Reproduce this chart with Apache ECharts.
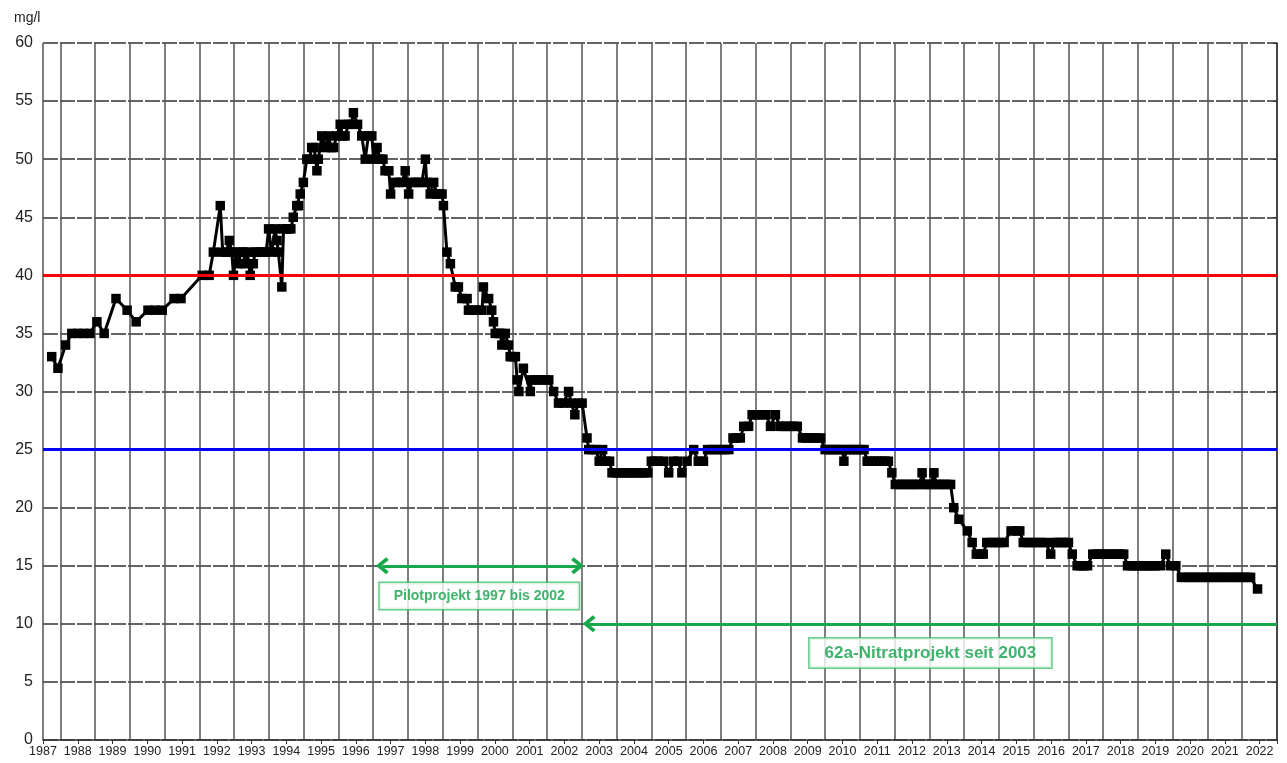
<!DOCTYPE html>
<html><head><meta charset="utf-8">
<script src="https://cdn.jsdelivr.net/npm/echarts@6/dist/echarts.min.js"></script>
<style>html,body{margin:0;padding:0;background:#fff}#c{width:1287px;height:763px}</style>
</head><body><div id="c"></div>
<script>
// [year (decimal), nitrate mg/l]
const nitrate = [
[1987.25,33],[1987.43,32],[1987.65,34],[1987.83,35],[1988.0,35],[1988.17,35],[1988.35,35],[1988.55,36],[1988.76,35],
[1989.1,38],[1989.42,37],[1989.68,36],[1990.02,37],[1990.22,37],[1990.43,37],[1990.77,38],[1990.97,38],[1991.58,40],[1991.78,40],
[1991.9,42],[1992.1,46],[1992.17,42],[1992.27,42],[1992.36,43],[1992.43,42],[1992.48,40],[1992.56,42],[1992.62,41],[1992.7,42],
[1992.77,42],[1992.81,41],[1992.88,42],[1992.96,40],[1993.05,41],[1993.1,42],[1993.15,42],[1993.25,42],[1993.34,42],[1993.42,42],
[1993.49,44],[1993.58,42],[1993.68,44],[1993.73,43],[1993.77,42],[1993.87,39],[1993.92,44],[1994.0,44],[1994.06,44],[1994.13,44],
[1994.2,45],[1994.3,46],[1994.35,46],[1994.4,47],[1994.49,48],[1994.59,50],[1994.66,50],[1994.73,51],[1994.8,51],[1994.88,49],
[1994.92,50],[1995.02,52],[1995.12,51],[1995.21,52],[1995.29,51],[1995.36,51],[1995.45,52],[1995.55,53],[1995.62,52],[1995.69,52],
[1995.79,53],[1995.86,53],[1995.93,54],[1996.05,53],[1996.17,52],[1996.27,50],[1996.36,52],[1996.46,52],[1996.51,50],[1996.61,51],
[1996.7,50],[1996.78,50],[1996.84,49],[1996.95,49],[1997.0,47],[1997.13,48],[1997.23,48],[1997.33,48],[1997.42,49],[1997.52,47],
[1997.61,48],[1997.7,48],[1997.8,48],[1997.9,48],[1998.0,50],[1998.04,48],[1998.14,47],[1998.24,48],[1998.33,47],[1998.41,47],
[1998.48,47],[1998.52,46],[1998.62,42],[1998.72,41],[1998.86,39],[1998.95,39],[1999.05,38],[1999.2,38],[1999.24,37],[1999.34,37],
[1999.44,37],[1999.54,37],[1999.63,37],[1999.67,39],[1999.82,38],[1999.91,37],[1999.96,36],[2000.01,35],[2000.1,35],[2000.16,35],
[2000.2,34],[2000.3,35],[2000.39,34],[2000.44,33],[2000.52,33],[2000.59,33],[2000.64,31],[2000.69,30],[2000.82,32],[2001.02,30],
[2001.05,31],[2001.16,31],[2001.26,31],[2001.36,31],[2001.45,31],[2001.55,31],[2001.69,30],[2001.83,29],[2001.97,29],[2002.12,30],
[2002.2,29],[2002.3,28],[2002.4,29],[2002.51,29],[2002.65,26],[2002.7,25],[2002.78,25],[2002.9,25],[2003.0,24],[2003.1,25],
[2003.2,24],[2003.3,24],[2003.37,23],[2003.5,23],[2003.6,23],[2003.7,23],[2003.8,23],[2003.9,23],[2004.0,23],[2004.1,23],
[2004.2,23],[2004.3,23],[2004.4,23],[2004.5,24],[2004.6,24],[2004.7,24],[2004.86,24],[2005.0,23],[2005.14,24],[2005.26,24],
[2005.38,23],[2005.53,24],[2005.72,25],[2005.85,24],[2006.0,24],[2006.12,25],[2006.25,25],[2006.37,25],[2006.49,25],[2006.61,25],
[2006.73,25],[2006.85,26],[2006.95,26],[2007.06,26],[2007.16,27],[2007.3,27],[2007.4,28],[2007.5,28],[2007.6,28],[2007.7,28],
[2007.8,28],[2007.93,27],[2008.07,28],[2008.2,27],[2008.3,27],[2008.4,27],[2008.5,27],[2008.6,27],[2008.7,27],[2008.85,26],
[2008.95,26],[2009.05,26],[2009.15,26],[2009.25,26],[2009.37,26],[2009.5,25],[2009.6,25],[2009.7,25],[2009.8,25],[2009.9,25],
[2010.0,25],[2010.04,24],[2010.12,25],[2010.22,25],[2010.32,25],[2010.42,25],[2010.52,25],[2010.62,25],[2010.71,24],[2010.82,24],
[2010.92,24],[2011.02,24],[2011.12,24],[2011.22,24],[2011.32,24],[2011.42,23],[2011.52,22],[2011.62,22],[2011.72,22],[2011.82,22],
[2011.92,22],[2012.02,22],[2012.12,22],[2012.22,22],[2012.29,23],[2012.38,22],[2012.47,22],[2012.55,22],[2012.63,23],[2012.7,22],
[2012.8,22],[2012.9,22],[2013.0,22],[2013.11,22],[2013.2,20],[2013.35,19],[2013.59,18],[2013.73,17],[2013.85,16],[2013.95,16],
[2014.05,16],[2014.15,17],[2014.28,17],[2014.4,17],[2014.52,17],[2014.65,17],[2014.85,18],[2015.0,18],[2015.1,18],[2015.2,17],
[2015.32,17],[2015.45,17],[2015.58,17],[2015.7,17],[2015.84,17],[2015.99,16],[2016.1,17],[2016.2,17],[2016.3,17],[2016.4,17],
[2016.5,17],[2016.61,16],[2016.75,15],[2016.85,15],[2016.95,15],[2017.05,15],[2017.2,16],[2017.3,16],[2017.4,16],[2017.5,16],
[2017.6,16],[2017.7,16],[2017.8,16],[2017.9,16],[2018.0,16],[2018.09,16],[2018.2,15],[2018.3,15],[2018.4,15],[2018.5,15],
[2018.6,15],[2018.7,15],[2018.8,15],[2018.9,15],[2019.0,15],[2019.15,15],[2019.3,16],[2019.44,15],[2019.59,15],[2019.75,14],
[2019.85,14],[2019.95,14],[2020.05,14],[2020.15,14],[2020.25,14],[2020.35,14],[2020.45,14],[2020.55,14],[2020.65,14],[2020.75,14],
[2020.85,14],[2020.95,14],[2021.05,14],[2021.15,14],[2021.25,14],[2021.35,14],[2021.45,14],[2021.55,14],[2021.65,14],[2021.74,14],
[2021.94,13]
];
const limitLines = [40, 25];               // red, blue
const limitColors = ['#ff0000', '#0000ff'];
const pilotArrow = [1996.76, 2002.38, 15];   // start, end, level
const nitratArrow = [2002.71, 2022.5, 10];
const noteTexts = ['Pilotprojekt 1997 bis 2002', '62a-Nitratprojekt seit 2003'];
const notePos = [[1999.55, 12.4], [2012.53, 7.5]];
const xRange = [1987, 2022.5];
const yRange = [0, 60];

const FF = '"Liberation Sans", Arial, sans-serif';
const GREEN = '#17a84b';
const chev = 'path://M0,10 L8,0 L16,10 L13.5,12.5 L8,5.5 L2.5,12.5 Z';

const chart = echarts.init(document.getElementById('c'), null, {renderer: 'canvas'});
chart.setOption({
  animation: false,
  backgroundColor: '#fff',
  title: {text: 'mg/l', left: 9, top: 6, textStyle: {fontSize: 14, fontWeight: 'normal', color: '#222', fontFamily: FF}},
  grid: {left: 43, right: 10, top: 43, bottom: 23, containLabel: false},
  xAxis: [
    {type: 'value', min: xRange[0], max: xRange[1], interval: 1,
     axisLine: {show: true, onZero: false, lineStyle: {color: '#333', width: 1.5}},
     axisTick: {show: true, length: 4, lineStyle: {color: '#333'}},
     axisLabel: {formatter: v => Number.isInteger(v) ? String(v) : '', fontSize: 12.5, color: '#222', margin: 5, fontFamily: FF},
     splitLine: {show: false}},
    {type: 'value', min: 0, max: xRange[1] - xRange[0], interval: 1, inverse: true, position: 'top',
     axisLine: {show: false}, axisTick: {show: false}, axisLabel: {show: false},
     splitLine: {show: true, lineStyle: {color: '#555', width: 1.5}}}
  ],
  yAxis: {type: 'value', min: yRange[0], max: yRange[1], interval: 5,
    axisLine: {show: true, lineStyle: {color: '#333', width: 1.5}},
    axisTick: {show: true, length: 4, lineStyle: {color: '#333'}},
    axisLabel: {fontSize: 16, color: '#222', margin: 10, fontFamily: FF},
    splitLine: {show: true, lineStyle: {color: '#333', width: 1.5, type: [15, 2]}}},
  series: [
    {type: 'line', data: nitrate, xAxisIndex: 0, symbol: 'rect', symbolSize: 9.5, showAllSymbol: true,
     lineStyle: {color: '#000', width: 3}, itemStyle: {color: '#000'}, z: 3, silent: true},
    {type: 'line', data: [], xAxisIndex: 0, z: 5, silent: true,
     markLine: {silent: true, symbol: 'none', label: {show: false}, animation: false,
       data: limitLines.map((v, i) => ({yAxis: v, lineStyle: {color: limitColors[i], width: 3, type: 'solid'}}))}},
    {type: 'line', data: [], xAxisIndex: 0, z: 6, silent: true,
     markLine: {silent: true, symbol: [chev, chev], symbolSize: [17, 13], label: {show: false}, animation: false,
       lineStyle: {color: GREEN, width: 3, type: 'solid'},
       data: [
         [{coord: [pilotArrow[0], pilotArrow[2]]}, {coord: [pilotArrow[1], pilotArrow[2]]}],
         [{coord: [nitratArrow[0], nitratArrow[2]], symbol: chev}, {coord: [nitratArrow[1], nitratArrow[2]], symbol: 'none'}]
       ]}},
    {type: 'scatter', xAxisIndex: 0, z: 7, silent: true, symbolSize: 1, itemStyle: {color: 'rgba(0,0,0,0)'},
     data: notePos.map((p, i) => ({value: p, label: {
       show: true, position: 'inside', formatter: noteTexts[i],
       fontSize: i === 0 ? 14 : 17, fontWeight: 'bold', color: '#10a047', fontFamily: FF,
       backgroundColor: '#fff', borderColor: '#3fbf6c', borderWidth: 1.5,
       padding: i === 0 ? [6, 14] : [6, 15]}}))}
  ]
});
</script></body></html>
